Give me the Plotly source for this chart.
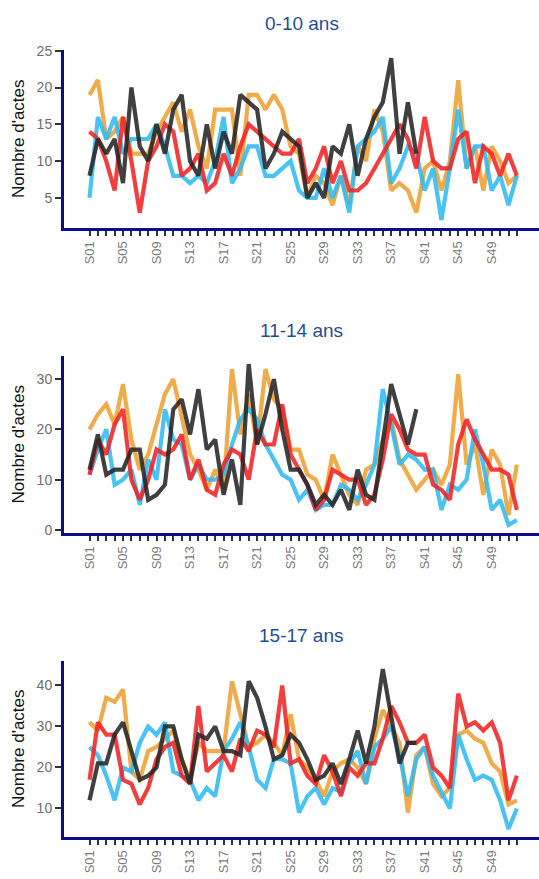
import plotly.graph_objects as go

# ---------------- data ----------------
weeks = ["S01", "S02", "S03", "S04", "S05", "S06", "S07", "S08", "S09", "S10",
         "S11", "S12", "S13", "S14", "S15", "S16", "S17", "S18", "S19", "S20",
         "S21", "S22", "S23", "S24", "S25", "S26", "S27", "S28", "S29", "S30",
         "S31", "S32", "S33", "S34", "S35", "S36", "S37", "S38", "S39", "S40",
         "S41", "S42", "S43", "S44", "S45", "S46", "S47", "S48", "S49", "S50",
         "S51", "S52"]
tick_labels = ["S01", "S05", "S09", "S13", "S17", "S21", "S25", "S29", "S33",
               "S37", "S41", "S45", "S49"]
panel_titles = ["0-10 ans", "11-14 ans", "15-17 ans"]
y_title = "Nombre d'actes"

# 0-10 ans
orange_0_10 = [19, 21, 13, 14, 16, 11, 11, 11, 14, 16, 18, 14, 17, 12, 9, 17, 17, 17, 8, 19,
               19, 17, 19, 17, 12, 11, 5, 8, 7, 4, 8, 4, 12, 10, 17, 14, 6, 7, 6, 3,
               9, 10, 6, 10, 21, 9, 12, 6, 12, 10, 7, 8]
blue_0_10 = [5, 16, 13, 16, 11, 13, 13, 13, 15, 12, 8, 8, 7, 8, 7, 10, 16, 7, 9, 12,
             12, 8, 8, 9, 10, 6, 5, 5, 9, 5, 8, 3, 12, 13, 14, 16, 7, 9, 12, 11,
             6, 9, 2, 9, 17, 9, 12, 12, 6, 8, 4, 8]
red_0_10 = [14, 13, 10, 6, 16, 10, 3, 10, 12, 15, 14, 8, 9, 11, 6, 7, 11, 8, 12, 15,
            14, 13, 12, 11, 11, 13, 7, 9, 12, 7, 10, 6, 6, 7, 9, 11, 13, 15, 13, 9,
            16, 10, 9, 9, 13, 14, 7, 12, 11, 8, 11, 8]
black_0_10 = [8, 13, 11, 13, 7, 20, 12, 10, 15, 11, 17, 19, 10, 8, 15, 9, 14, 11, 19, 18,
              17, 9, 11, 14, 13, 12, 5, 7, 5, 12, 11, 15, 8, 13, 16, 18, 24, 11, 18, 11]

# 11-14 ans
orange_11_14 = [20, 23, 25, 21, 29, 18, 12, 15, 21, 27, 30, 22, 15, 12, 8, 12, 8, 32, 19, 27,
                17, 32, 26, 24, 16, 16, 11, 10, 6, 15, 11, 7, 5, 12, 13, 18, 22, 14, 11, 8,
                10, 12, 9, 13, 31, 13, 17, 7, 16, 13, 3, 13]
blue_11_14 = [11, 16, 20, 9, 10, 12, 5, 14, 10, 24, 18, 17, 10, 13, 10, 10, 11, 17, 22, 24,
              22, 17, 14, 11, 10, 6, 8, 4, 5, 5, 9, 8, 6, 9, 13, 28, 21, 13, 15, 14,
              12, 12, 4, 9, 8, 10, 20, 13, 4, 6, 1, 2]
red_11_14 = [11, 18, 15, 21, 24, 10, 6, 10, 16, 15, 16, 19, 10, 14, 8, 7, 13, 16, 15, 10,
             20, 17, 17, 25, 15, 12, 9, 4, 6, 12, 11, 10, 10, 5, 7, 14, 23, 20, 16, 15,
             15, 9, 8, 6, 17, 22, 18, 15, 12, 12, 11, 4]
black_11_14 = [12, 19, 11, 12, 12, 16, 16, 6, 7, 9, 24, 26, 19, 28, 16, 18, 7, 14, 5, 33,
               17, 23, 30, 20, 12, 12, 9, 5, 7, 5, 8, 4, 12, 7, 6, 17, 29, 23, 17, 24]

# 15-17 ans
orange_15_17 = [31, 29, 37, 36, 39, 19, 17, 24, 25, 27, 29, 22, 17, 26, 24, 24, 24, 41, 33, 25,
                26, 28, 26, 23, 33, 22, 20, 17, 13, 19, 21, 22, 20, 16, 27, 34, 30, 26, 9, 23,
                25, 16, 13, 15, 28, 29, 27, 26, 21, 19, 11, 12]
blue_15_17 = [25, 23, 18, 12, 20, 19, 26, 30, 28, 31, 19, 18, 17, 12, 15, 13, 24, 27, 31, 25,
              17, 15, 22, 22, 21, 9, 13, 15, 11, 15, 14, 21, 24, 16, 25, 27, 30, 23, 13, 22,
              25, 18, 14, 10, 28, 22, 17, 18, 17, 12, 5, 10]
red_15_17 = [17, 31, 28, 28, 17, 16, 11, 15, 22, 25, 26, 18, 16, 35, 19, 21, 23, 19, 27, 24,
             29, 28, 25, 40, 21, 22, 18, 16, 23, 19, 13, 20, 18, 21, 21, 27, 35, 31, 26, 26,
             28, 20, 18, 15, 38, 30, 31, 29, 31, 26, 12, 18]
black_15_17 = [12, 21, 21, 28, 31, 24, 17, 18, 20, 30, 30, 22, 16, 28, 27, 30, 24, 24, 23, 41,
               37, 30, 22, 23, 28, 26, 22, 17, 18, 21, 16, 22, 29, 21, 30, 44, 33, 21, 26, 26]

panels = [
    [orange_0_10, blue_0_10, red_0_10, black_0_10],
    [orange_11_14, blue_11_14, red_11_14, black_11_14],
    [orange_15_17, blue_15_17, red_15_17, black_15_17],
]
series_names = ["Série 1", "Série 2", "Série 3", "Série 4"]
series_colors = ["#EFA032", "#2FBBF2", "#F02424", "#262626"]
y_dticks = [5, 10, 10]

# ---------------- layout geometry ----------------
W, H = 539, 879
LEFT = 64
panel_px = [(50, 228), (356, 533), (661, 837)]  # top, bottom (pixels)
title_px = [24, 330, 635]
S01_PX = 89.5
STEP_PX = 8.38

font_family = "Arial, Liberation Sans, sans-serif"
axis_blue = "#0B0B8C"

fig = go.Figure()

x_lo = -(S01_PX - LEFT) / STEP_PX
x_hi = x_lo + (W - LEFT) / STEP_PX
ticktext = [w if w in tick_labels else "" for w in weeks]

for p, series in enumerate(panels):
    ax = "" if p == 0 else str(p + 1)
    for name, color, vals in zip(series_names, series_colors, series):
        fig.add_trace(go.Scatter(
            x=weeks[:len(vals)], y=vals, mode="lines", name=name,
            line=dict(color=color, width=4.2), opacity=0.88,
            xaxis="x" + ax, yaxis="y" + ax, showlegend=False,
        ))
    allv = [v for s in series for v in s]
    lo, hi = min(allv), max(allv)
    pad = 0.05 * (hi - lo)
    top, bot = panel_px[p]
    fig.layout["xaxis" + ax] = dict(
        domain=[0, 1], anchor="y" + ax, type="category",
        categoryorder="array", categoryarray=weeks,
        range=[x_lo, x_hi], automargin=False,
        tickmode="array", tickvals=weeks, ticktext=ticktext,
        ticks="outside", ticklen=5, tickwidth=2, tickcolor="#333333",
        tickangle=-90, tickfont=dict(size=13, color="#7a7a7a", family=font_family),
        showline=True, linecolor=axis_blue, linewidth=3,
        showgrid=False, zeroline=False, fixedrange=True,
    )
    fig.layout["yaxis" + ax] = dict(
        domain=[1 - bot / H, 1 - top / H], anchor="x" + ax, automargin=False,
        range=[lo - pad, hi + pad], dtick=y_dticks[p], tick0=0,
        ticks="outside", ticklen=6, tickwidth=2, tickcolor="#333333",
        tickfont=dict(size=14, color="#6e6e6e", family=font_family),
        showline=True, linecolor=axis_blue, linewidth=3,
        showgrid=False, zeroline=False, fixedrange=True,
    )
    fig.add_annotation(
        text=panel_titles[p], xref="paper", yref="paper",
        x=0.5, y=1 - title_px[p] / H, xanchor="center", yanchor="middle",
        showarrow=False, font=dict(size=19, color="#1F4E96", family=font_family),
    )
    fig.add_annotation(
        text=y_title, xref="paper", yref="paper",
        x=0, xshift=18 - LEFT, y=1 - ((top + bot) / 2) / H,
        xanchor="center", yanchor="middle", textangle=-90,
        showarrow=False, font=dict(size=17, color="#111111", family=font_family),
    )

fig.update_layout(
    width=W, height=H,
    margin=dict(l=LEFT, r=0, t=0, b=0, autoexpand=False),
    paper_bgcolor="white", plot_bgcolor="white",
    font=dict(family=font_family),
    showlegend=False,
)

fig.write_html(
    "out.html",
    config={"displayModeBar": False},
    post_script="document.body.style.margin='0px';document.body.style.overflow='hidden';",
)
